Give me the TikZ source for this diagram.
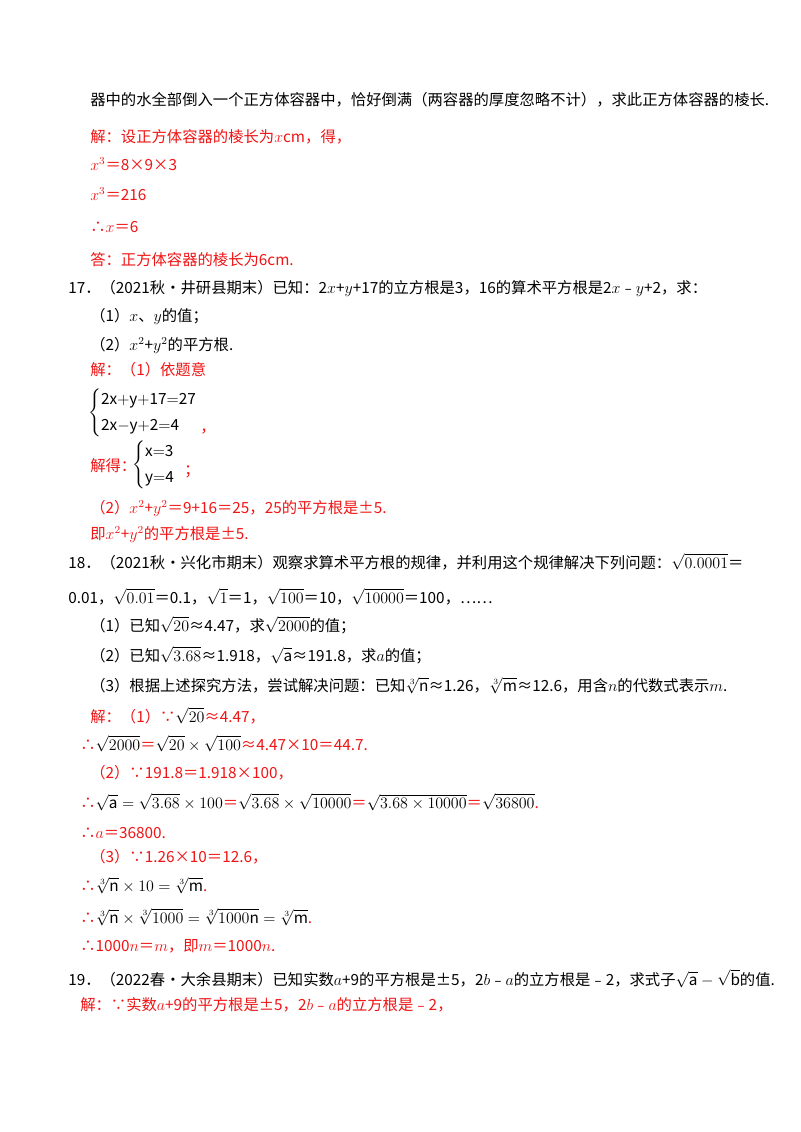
\documentclass[tikz,border=0pt]{standalone}
\usepackage{amsmath}
\usepackage{fontspec}
\setmainfont{Noto Sans CJK SC}
\usetikzlibrary{positioning}
\definecolor{ansred}{RGB}{240,20,20}
\begin{document}
\begin{tikzpicture}[x=0.75pt,y=-0.75pt,
    txt/.style={anchor=base west,inner sep=0pt,font=\fontsize{11.5}{13}\selectfont},
    ans/.style={txt,text=ansred}]
\useasboundingbox[fill=white] (0,0) rectangle (800,1132);
% problem 16, end
\node[txt] (p16) at (90,105) {器中的水全部倒入一个正方体容器中，恰好倒满（两容器的厚度忽略不计），求此正方体容器的棱长.};
\node[ans] (a16a) at (90,142) {解：设正方体容器的棱长为$x$\textit{cm}，得，};
\node[ans] (a16b) at (90,170) {$x^3$＝8×9×3};
\node[ans] (a16c) at (90,200) {$x^3$＝216};
\node[ans] (a16d) at (90,232) {∴$x$＝6};
\node[ans] (a16e) at (90,265) {答：正方体容器的棱长为6\textit{cm}.};
% problem 17
\node[txt] (p17) at (68,293) {17．（2021秋•井研县期末）已知：2$x$+$y$+17的立方根是3，16的算术平方根是2$x$﹣$y$+2，求：};
\node[txt] (p17a) at (90,321) {（1）$x$、$y$的值；};
\node[txt] (p17b) at (90,350) {（2）$x^2$+$y^2$的平方根.};
\node[ans] (a17a) at (90,375) {解：（1）依题意};
\node[txt,anchor=west] (sys1) at (88,413) {$\begin{cases}\mathrm{2x{+}y{+}17{=}27}\\[4pt] \mathrm{2x{-}y{+}2{=}4}\end{cases}$};
\node[ans] (c1) at (200,432) {，};
\node[ans] (a17b) at (90,471) {解得：};
\node[txt,anchor=west] (sys2) at (132,465) {$\begin{cases}\mathrm{x{=}3}\\[4pt] \mathrm{y{=}4}\end{cases}$};
\node[ans] (c2) at (184,475) {；};
\node[ans] (a17c) at (90,513) {（2）$x^2$+$y^2$＝9+16＝25，25的平方根是±5.};
\node[ans] (a17d) at (90,539) {即$x^2$+$y^2$的平方根是±5.};
% problem 18
\node[txt] (p18) at (68,568) {18．（2021秋•兴化市期末）观察求算术平方根的规律，并利用这个规律解决下列问题：$\sqrt{0.0001}$＝};
\node[txt] (p18b) at (68,603) {0.01，$\sqrt{0.01}$＝0.1，$\sqrt{1}$＝1，$\sqrt{100}$＝10，$\sqrt{10000}$＝100，……};
\node[txt] (p18c) at (90,631) {（1）已知$\sqrt{20}$≈4.47，求$\sqrt{2000}$的值；};
\node[txt] (p18d) at (90,661) {（2）已知$\sqrt{3.68}$≈1.918，$\sqrt{\mathrm a}$≈191.8，求$a$的值；};
\node[txt] (p18e) at (90,691) {（3）根据上述探究方法，尝试解决问题：已知$\sqrt[3]{\mathrm n}$≈1.26，$\sqrt[3]{\mathrm m}$≈12.6，用含$n$的代数式表示$m$.};
\node[ans] (a18a) at (90,722) {解：（1）∵\textcolor{black}{$\sqrt{20}$}≈4.47，};
\node[ans] (a18b) at (80,750) {∴\textcolor{black}{$\sqrt{2000}$}＝\textcolor{black}{$\sqrt{20}\times\sqrt{100}$}≈4.47×10＝44.7.};
\node[ans] (a18c) at (90,778) {（2）∵191.8＝1.918×100，};
\node[ans] (a18d) at (80,808) {∴\textcolor{black}{$\sqrt{\mathrm a}=\sqrt{3.68}\times100$}＝\textcolor{black}{$\sqrt{3.68}\times\sqrt{10000}$}＝\textcolor{black}{$\sqrt{3.68\times10000}$}＝\textcolor{black}{$\sqrt{36800}$}.};
\node[ans] (a18e) at (80,838) {∴$a$＝36800.};
\node[ans] (a18f) at (90,862) {（3）∵1.26×10＝12.6，};
\node[ans] (a18g) at (80,891) {∴\textcolor{black}{$\sqrt[3]{\mathrm n}\times10=\sqrt[3]{\mathrm m}$}.};
\node[ans] (a18h) at (80,923) {∴\textcolor{black}{$\sqrt[3]{\mathrm n}\times\sqrt[3]{1000}=\sqrt[3]{1000\mathrm n}=\sqrt[3]{\mathrm m}$}.};
\node[ans] (a18i) at (80,951) {∴1000$n$＝$m$，即$m$＝1000$n$.};
% problem 19
\node[txt] (p19) at (68,985) {19．（2022春•大余县期末）已知实数$a$+9的平方根是±5，2$b$﹣$a$的立方根是﹣2，求式子$\sqrt{\mathrm a}-\sqrt{\mathrm b}$的值.};
\node[ans] (a19a) at (80,1010) {解：∵实数$a$+9的平方根是±5，2$b$﹣$a$的立方根是﹣2，};
\end{tikzpicture}
\end{document}
